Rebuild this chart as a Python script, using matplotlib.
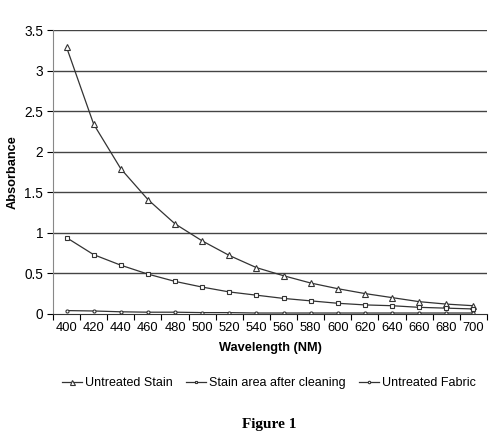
import numpy as np
import matplotlib
matplotlib.use('Agg')
from matplotlib import pyplot as plt

# wavelength categories and series
wavelength = [400, 420, 440, 460, 480, 500, 520, 540, 560, 580, 600, 620, 640, 660, 680, 700]
untreated_stain = [3.29, 2.34, 1.79, 1.41, 1.11, 0.90, 0.72, 0.57, 0.47, 0.38, 0.31, 0.25, 0.20, 0.15, 0.12, 0.10]
after_cleaning = [0.94, 0.73, 0.60, 0.49, 0.40, 0.33, 0.27, 0.23, 0.19, 0.16, 0.13, 0.11, 0.10, 0.08, 0.07, 0.06]
untreated_fabric = [0.04, 0.035, 0.025, 0.02, 0.02, 0.015, 0.015, 0.01, 0.01, 0.01, 0.01, 0.01, 0.01, 0.01, 0.01, 0.01]
y_ticks = [0, 0.5, 1, 1.5, 2, 2.5, 3, 3.5]
y_labels = ['0', '0.5', '1', '1.5', '2', '2.5', '3', '3.5']

plt.rcParams['font.family'] = ['Liberation Sans', 'DejaVu Sans']

fig = plt.figure(figsize=(4.98, 4.44), dpi=100)
ax = fig.add_axes([0.1064, 0.2932, 0.8715, 0.6388])

x = np.arange(len(wavelength))
ax.plot(x, untreated_stain, color='#333333', lw=0.9, marker='^', ms=4.5,
        mfc='white', mec='#333333', mew=0.8, label='Untreated Stain')
ax.plot(x, after_cleaning, color='#333333', lw=0.9, marker='s', ms=2.5,
        mfc='white', mec='#333333', mew=0.8, label='Stain area after cleaning')
ax.plot(x, untreated_fabric, color='#333333', lw=0.9, marker='o', ms=2.2,
        mfc='white', mec='#333333', mew=0.8, label='Untreated Fabric')

ax.set_xlim(-0.5, len(wavelength) - 0.5)
ax.set_ylim(0, 3.5)
ax.set_xticks(x)
ax.set_xticklabels([str(w) for w in wavelength], fontsize=9.3)
ax.set_xticks(np.arange(-0.5, len(wavelength), 1), minor=True)
ax.tick_params(axis='x', which='major', length=0, pad=6)
ax.tick_params(axis='x', which='minor', length=4, direction='out', width=0.8)
ax.set_yticks(y_ticks)
ax.set_yticklabels(y_labels, fontsize=9.8)
ax.tick_params(axis='y', length=4, direction='out', width=0.8, pad=3)

for v in y_ticks[1:]:
    ax.axhline(v, color='#444444', lw=1.0, zorder=0)

for s in ['top', 'right']:
    ax.spines[s].set_visible(False)
ax.spines['left'].set_color('#888888')
ax.spines['bottom'].set_color('#333333')

ax.set_xlabel('Wavelength (NM)', fontsize=9.2, fontweight='bold', labelpad=6)
ax.set_ylabel('Absorbance', fontsize=9.2, fontweight='bold', labelpad=4)

fig.legend(loc='center', bbox_to_anchor=(0.54, 0.137), ncol=3, frameon=False,
           fontsize=9, handlelength=1.6, handletextpad=0.3, columnspacing=1.0,
           markerscale=0.8)

fig.text(0.54, 0.043, 'Figure 1', ha='center', va='center', fontsize=11,
         fontweight='bold', family=['Liberation Serif', 'DejaVu Serif'])

fig.savefig('out.png', dpi=100)
